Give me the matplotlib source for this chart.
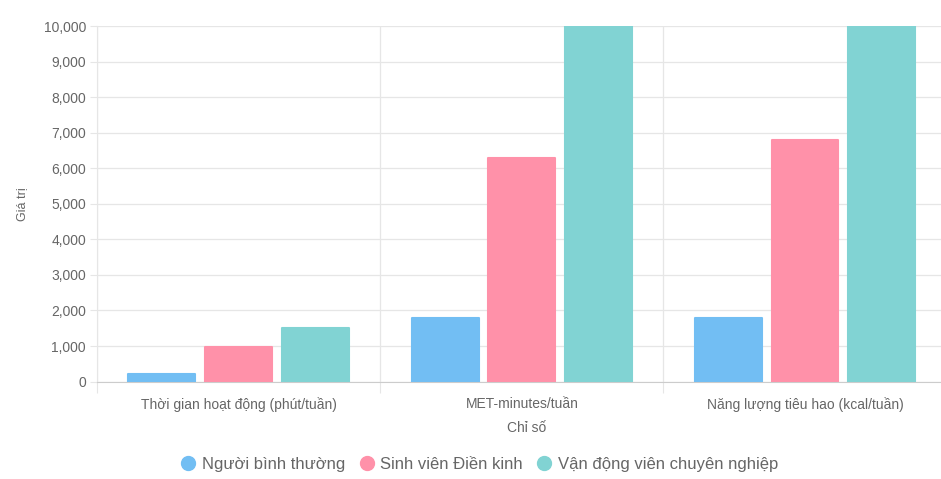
import matplotlib.pyplot as plt
from matplotlib.lines import Line2D
from matplotlib.ticker import FuncFormatter, FixedLocator

plt.rcParams['font.family'] = ['Liberation Sans', 'DejaVu Sans']

# Data
categories = ['Thời gian hoạt động (phút/tuần)', 'MET-minutes/tuần', 'Năng lượng tiêu hao (kcal/tuần)']
series_names = ['Người bình thường', 'Sinh viên Điền kinh', 'Vận động viên chuyên nghiệp']
nguoi_binh_thuong = [210, 1780, 1780]
sinh_vien_dien_kinh = [980, 6300, 6800]
van_dong_vien = [1500, 10000, 10000]
y_ticks = [0, 1000, 2000, 3000, 4000, 5000, 6000, 7000, 8000, 9000, 10000]

series_values = [nguoi_binh_thuong, sinh_vien_dien_kinh, van_dong_vien]
colors = ['#72bef3', '#ff91a9', '#81d3d3']
text_color = '#666666'
grid_color = '#e6e6e6'

fig = plt.figure(figsize=(9.41, 4.79), dpi=100)
ax = fig.add_axes([0.1031, 0.2033, 0.8969, 0.7424])

bar_w = 0.236
step = 0.271
x = list(range(len(categories)))
for i, (vals, color) in enumerate(zip(series_values, colors)):
    pos = [xi + (i - 1) * step for xi in x]
    ax.bar(pos, vals, width=bar_w, color=color, edgecolor=color,
           linewidth=1.5, joinstyle='round', zorder=3)

ax.set_xlim(-0.5, 2.48)
ax.set_ylim(0, 10000)

# y axis
ax.yaxis.set_major_locator(FixedLocator(y_ticks))
ax.yaxis.set_major_formatter(FuncFormatter(lambda v, p: f'{int(v):,}'))
ax.tick_params(axis='y', length=5, width=0.8, color=grid_color, pad=3,
               labelsize=10, labelcolor=text_color)
ax.grid(axis='y', color=grid_color, linewidth=0.9, zorder=0)

# x axis: labels at centers, grid lines between categories
ax.set_xticks(x)
ax.set_xticklabels(categories)
ax.set_xticks([-0.5, 0.5, 1.5], minor=True)
ax.tick_params(axis='x', which='major', length=0, pad=11,
               labelsize=10, labelcolor=text_color)
ax.tick_params(axis='x', which='minor', length=8, width=0.8, color=grid_color)
ax.grid(axis='x', which='minor', color=grid_color, linewidth=0.9, zorder=0)

for side in ['top', 'right']:
    ax.spines[side].set_visible(False)
ax.spines['left'].set_color(grid_color)
ax.spines['bottom'].set_color('#cccccc')
ax.set_axisbelow(True)

ax.set_ylabel('Giá trị', fontsize=9, color=text_color)
ax.yaxis.set_label_coords(-0.0889, 0.5)
ax.yaxis.label.set_verticalalignment('center')
ax.set_xlabel('Chỉ số', fontsize=10, color=text_color)
ax.xaxis.set_label_coords(0.509, -0.130)
ax.xaxis.label.set_verticalalignment('center')

handles = [Line2D([], [], linestyle='none', marker='o', markersize=10,
                  markerfacecolor=c, markeredgecolor=c) for c in colors]
fig.legend(handles, series_names, loc='center', bbox_to_anchor=(0.509, 0.031),
           ncol=3, frameon=False, fontsize=12, labelcolor=text_color,
           handletextpad=0.3, columnspacing=0.8, handlelength=1.0)

fig.savefig('out.png', dpi=100)
